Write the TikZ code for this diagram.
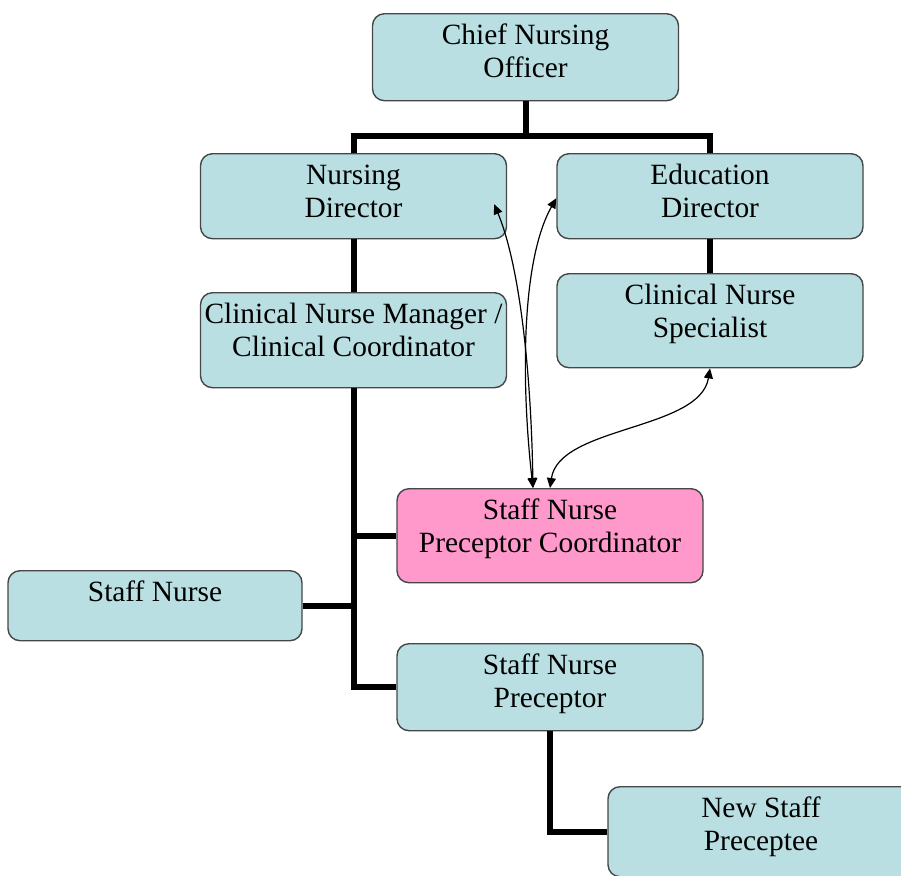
\documentclass[tikz,border=0pt]{standalone}
\usepackage{fontspec}
\setmainfont{Liberation Serif}
\usetikzlibrary{arrows.meta}
\definecolor{boxblue}{RGB}{185,223,227}
\definecolor{boxpink}{RGB}{255,153,204}
\definecolor{boxline}{RGB}{70,70,70}

\begin{document}
\begin{tikzpicture}[x=0.5pt, y=-0.5pt]
	\tikzstyle{every node}=[font=\fontsize{14.7}{16.5}\selectfont]
	\tikzstyle{box}=[draw=boxline, line width=0.7pt, fill=boxblue, rounded corners=6pt, anchor=north, align=center, minimum width=153pt, minimum height=0pt, inner sep=0pt, text height=32pt]
	\tikzstyle{wire}=[line width=3pt]
	\tikzstyle{link}=[line width=0.6pt, {Triangle[length=5pt,width=4.5pt]}-{Triangle[length=5pt,width=4.5pt]}]

	\useasboundingbox (0,0) rectangle (901,875);

	%boxes
	\node[box, text depth=11.5pt] (cno) at (525.5,13) {Chief Nursing\\Officer};
	\node[box, text depth=10.5pt] (nd) at (353.5,153) {Nursing\\Director};
	\node[box, text depth=10.5pt] (ed) at (710,153) {Education\\Director};
	\node[box, text depth=15.5pt] (cnm) at (353.5,292) {Clinical Nurse Manager /\\Clinical Coordinator};
	\node[box, text depth=15pt] (cns) at (710,273) {Clinical Nurse\\Specialist};
	\node[box, fill=boxpink, text depth=15pt] (spc) at (550,488) {Staff Nurse\\Preceptor Coordinator};
	\node[box, minimum width=147pt, text height=15.5pt, text depth=19.5pt] (sn) at (155,570) {Staff Nurse};
	\node[box, text depth=11.5pt] (snp) at (550,643) {Staff Nurse\\Preceptor};
	\node[box, text depth=13pt] (nsp) at (761,786) {New Staff\\Preceptee};

	%lines
	\draw[wire] (cno.south) -- ++(0,35) -| (nd.north);
	\draw[wire] (cno.south) -- ++(0,35) -| (ed.north);
	\draw[wire] (nd.south) -- (cnm.north);
	\draw[wire] (ed.south) -- (cns.north);
	\draw[wire] (cnm.south) |- (spc.west);
	\draw[wire] (cnm.south) |- (snp.west);
	\draw[wire] (sn.east) -- (sn.east -| cnm.south);
	\draw[wire] (snp.south) |- (nsp.west);

	%arrows
	\draw[link] ([xshift=-6.5pt,yshift=-4pt]nd.east) .. controls +(25,60) and +(-2,-120) .. ([xshift=-8.5pt]spc.north);
	\draw[link] ([yshift=-1pt]ed.west) .. controls +(-35,62) and +(-12,-107) .. ([xshift=-8.5pt]spc.north);
	\draw[link] (cns.south) .. controls +(-10,62) and +(9,-62) .. (spc.north);
\end{tikzpicture}
\end{document}
